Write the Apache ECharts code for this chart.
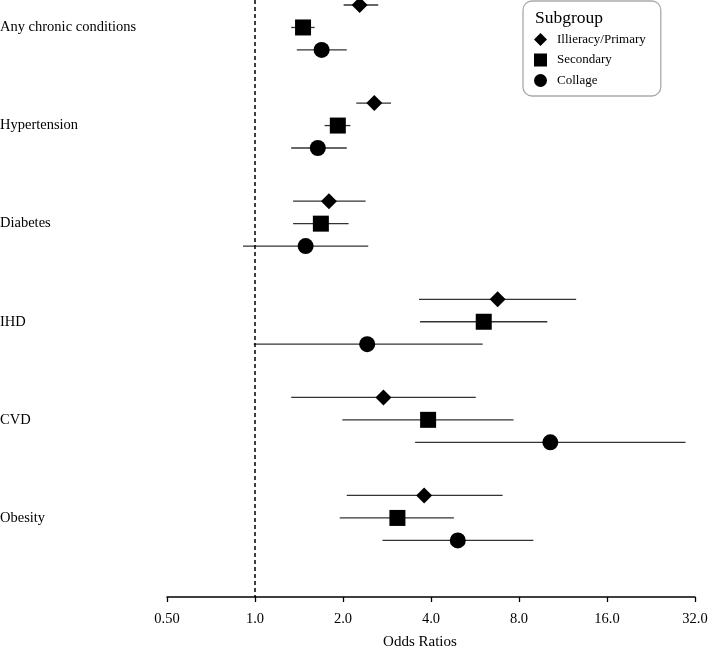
<!DOCTYPE html>
<html>
<head>
<meta charset="utf-8">
<script src="https://cdn.jsdelivr.net/npm/echarts@6/dist/echarts.min.js"></script>
<style>html,body{margin:0;padding:0;background:#fff;}#c{width:708px;height:646px;}</style>
</head>
<body>
<div id="c"></div>
<script>
const categories = ['Any chronic conditions', 'Hypertension', 'Diabetes', 'IHD', 'CVD', 'Obesity'];
const subgroups = ['Illieracy/Primary', 'Secondary', 'Collage'];
const symbols = ['diamond', 'rect', 'circle'];
const xTicks = [0.5, 1, 2, 4, 8, 16, 32];

const orPrimary = [2.28, 2.56, 1.79, 6.76, 2.75, 3.79];
const loPrimary = [2.01, 2.22, 1.35, 3.64, 1.33, 2.06];
const hiPrimary = [2.64, 2.92, 2.39, 12.55, 5.69, 7.03];

const orSecondary = [1.46, 1.92, 1.68, 6.06, 3.91, 3.07];
const loSecondary = [1.33, 1.73, 1.35, 3.67, 1.99, 1.95];
const hiSecondary = [1.60, 2.12, 2.09, 10.0, 7.66, 4.79];

const orCollage = [1.69, 1.64, 1.49, 2.42, 10.24, 4.94];
const loCollage = [1.39, 1.33, 0.91, 0.99, 3.53, 2.73];
const hiCollage = [2.06, 2.06, 2.44, 6.01, 29.7, 8.96];

const ors = [orPrimary, orSecondary, orCollage];
const los = [loPrimary, loSecondary, loCollage];
const his = [hiPrimary, hiSecondary, hiCollage];
const offsets = [-0.229, 0, 0.229];

const serif = '"Liberation Serif", "Times New Roman", serif';

const ciData = [];
subgroups.forEach((s, k) => {
  categories.forEach((c, i) => {
    ciData.push([los[k][i], his[k][i], i + offsets[k]]);
  });
});

const series = [{
  type: 'custom',
  name: 'ci',
  silent: true,
  clip: false,
  renderItem: function (params, api) {
    const y = api.value(2);
    const p1 = api.coord([api.value(0), y]);
    const p2 = api.coord([api.value(1), y]);
    return {
      type: 'line',
      shape: { x1: p1[0], y1: p1[1], x2: p2[0], y2: p2[1] },
      style: { stroke: '#333', lineWidth: 1.3 }
    };
  },
  encode: { x: [0, 1], y: 2 },
  data: ciData,
  markLine: {
    silent: true,
    symbol: 'none',
    label: { show: false },
    lineStyle: { color: '#000', type: [4, 3], width: 1.5, opacity: 1 },
    data: [{ xAxis: 1 }]
  },
  z: 1
}];

subgroups.forEach((s, k) => {
  series.push({
    type: 'scatter',
    name: s,
    symbol: symbols[k],
    symbolSize: 16,
    clip: false,
    itemStyle: { color: '#000', opacity: 1 },
    emphasis: { disabled: true },
    data: categories.map((c, i) => [ors[k][i], i + offsets[k]]),
    z: 3
  });
});

const chart = echarts.init(document.getElementById('c'));
chart.setOption({
  backgroundColor: '#fff',
  animation: false,
  title: {
    text: 'Subgroup',
    left: 535, top: 9, padding: 0,
    textStyle: { fontFamily: serif, fontSize: 17.5, fontWeight: 'normal', color: '#000' }
  },
  legend: {
    data: subgroups,
    orient: 'vertical',
    left: 523, top: 1,
    padding: [32, 15, 9, 11],
    itemWidth: 13, itemHeight: 13, itemGap: 7.5,
    borderColor: '#aaa', borderWidth: 1.3, borderRadius: 9,
    textStyle: { fontFamily: serif, fontSize: 13, color: '#000', padding: [0, 0, 0, 5] },
    itemStyle: { color: '#000', opacity: 1 }
  },
  grid: { left: 167, right: 13, top: 0, bottom: 49, outerBoundsMode: 'none', containLabel: false },
  xAxis: {
    type: 'log',
    logBase: 2,
    position: 'bottom',
    min: xTicks[0],
    max: xTicks[xTicks.length - 1],
    splitNumber: 6,
    name: 'Odds Ratios',
    nameLocation: 'middle',
    nameGap: 38,
    nameTextStyle: { fontFamily: serif, fontSize: 15, color: '#000', padding: [0, 22, 0, 0] },
    axisLine: { onZero: false, lineStyle: { color: '#000', width: 1.5 } },
    axisTick: { show: true, length: 5, lineStyle: { color: '#000', width: 1.3 } },
    splitLine: { show: false },
    minorTick: { show: false },
    axisLabel: {
      fontFamily: serif, fontSize: 14.5, color: '#000', margin: 15,
      formatter: v => (v < 1 ? Number(v).toFixed(2) : Number(v).toFixed(1))
    }
  },
  yAxis: {
    type: 'value',
    inverse: true,
    min: -0.28,
    max: 5.806,
    axisLine: { show: false },
    axisTick: { show: false },
    splitLine: { show: false },
    axisLabel: {
      customValues: categories.map((c, i) => i),
      align: 'left',
      margin: 167,
      fontFamily: serif, fontSize: 14.5, color: '#000',
      formatter: v => categories[Math.round(v)] || ''
    }
  },
  series: series
});
</script>
</body>
</html>
